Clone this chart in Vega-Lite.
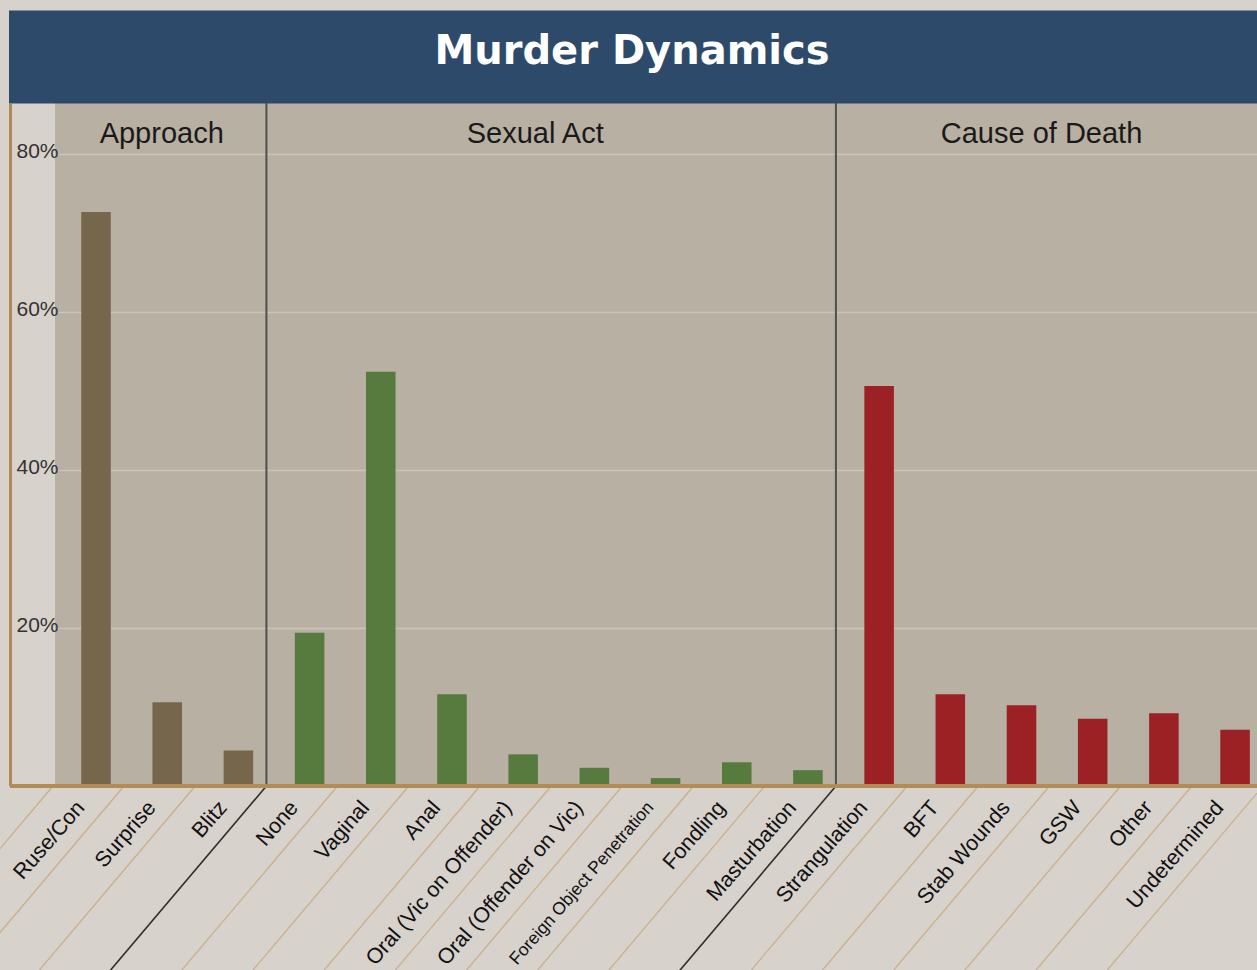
{
  "$schema": "https://vega.github.io/schema/vega-lite/v6.json",
  "autosize": {"type": "none"},
  "padding": {"left": 55, "top": 103, "right": 0, "bottom": 184},
  "width": 1202,
  "height": 683,
  "background": "#d7d2cb",
  "config": {"view": {"fill": "#b8b0a2", "stroke": null}},
  "title": {"text": "Murder Dynamics", "color": "#ffffff", "font": "DejaVu Sans", "fontSize": 40, "fontWeight": "bold", "anchor": "middle", "frame": "group", "dx": -24, "offset": -47, "baseline": "alphabetic"},
  "data": {"values": [
    {"cat": "Ruse/Con", "group": "Approach", "value": 72.6},
    {"cat": "Surprise", "group": "Approach", "value": 10.6},
    {"cat": "Blitz", "group": "Approach", "value": 4.5},
    {"cat": "None", "group": "Sexual Act", "value": 19.4},
    {"cat": "Vaginal", "group": "Sexual Act", "value": 52.4},
    {"cat": "Anal", "group": "Sexual Act", "value": 11.6},
    {"cat": "Oral (Vic on Offender)", "group": "Sexual Act", "value": 4.0},
    {"cat": "Oral (Offender on Vic)", "group": "Sexual Act", "value": 2.3},
    {"cat": "Foreign Object Penetration", "group": "Sexual Act", "value": 1.0},
    {"cat": "Fondling", "group": "Sexual Act", "value": 3.0},
    {"cat": "Masturbation", "group": "Sexual Act", "value": 2.0},
    {"cat": "Strangulation", "group": "Cause of Death", "value": 50.6},
    {"cat": "BFT", "group": "Cause of Death", "value": 11.6},
    {"cat": "Stab Wounds", "group": "Cause of Death", "value": 10.2},
    {"cat": "GSW", "group": "Cause of Death", "value": 8.5},
    {"cat": "Other", "group": "Cause of Death", "value": 9.2},
    {"cat": "Undetermined", "group": "Cause of Death", "value": 7.1}
  ]},
  "encoding": {
    "x": {"field": "cat", "type": "nominal", "axis": null,
      "scale": {"domain": ["Ruse/Con","Surprise","Blitz","None","Vaginal","Anal","Oral (Vic on Offender)","Oral (Offender on Vic)","Foreign Object Penetration","Fondling","Masturbation","Strangulation","BFT","Stab Wounds","GSW","Other","Undetermined"], "paddingInner": 0.585, "paddingOuter": 0.2346, "align": 0.786}}
  },
  "resolve": {"axis": {"x": "independent", "y": "independent"}},
  "layer": [
    {
      "transform": [{"filter": {"not": {"field": "cat", "oneOf": ["Blitz", "Masturbation"]}}}],
      "mark": {"type": "rule", "color": "#c9ae86", "strokeWidth": 1.2, "xOffset": 28, "x2Offset": -146},
      "encoding": {
        "x2": {"field": "cat"},
        "y": {"datum": 0, "type": "quantitative", "axis": null, "scale": {"domain": [0, 86.4], "nice": false}},
        "y2": {"datum": -26}
      }
    },
    {
      "transform": [{"filter": {"field": "cat", "equal": "Ruse/Con"}}],
      "mark": {"type": "rule", "color": "#c9ae86", "strokeWidth": 1.2, "xOffset": -43, "x2Offset": -217},
      "encoding": {
        "x2": {"field": "cat"},
        "y": {"datum": 0, "type": "quantitative", "axis": null, "scale": {"domain": [0, 86.4], "nice": false}},
        "y2": {"datum": -26}
      }
    },
    {
      "transform": [{"filter": {"field": "cat", "oneOf": ["Blitz", "Masturbation"]}}],
      "mark": {"type": "rule", "color": "#2e2e2e", "strokeWidth": 1.6, "xOffset": 28, "x2Offset": -146},
      "encoding": {
        "x2": {"field": "cat"},
        "y": {"datum": 0, "type": "quantitative", "axis": null, "scale": {"domain": [0, 86.4], "nice": false}},
        "y2": {"datum": -26}
      }
    },
    {
      "transform": [{"filter": {"field": "cat", "oneOf": ["Blitz", "Masturbation"]}}],
      "mark": {"type": "rule", "color": "#505050", "strokeWidth": 2, "xOffset": 28},
      "encoding": {
        "y": {"datum": 0, "type": "quantitative", "axis": null, "scale": {"domain": [0, 86.4], "nice": false}},
        "y2": {"datum": 86.4}
      }
    },
    {
      "mark": {"type": "bar"},
      "encoding": {
        "x": {"field": "cat", "type": "nominal",
          "scale": {"domain": ["Ruse/Con","Surprise","Blitz","None","Vaginal","Anal","Oral (Vic on Offender)","Oral (Offender on Vic)","Foreign Object Penetration","Fondling","Masturbation","Strangulation","BFT","Stab Wounds","GSW","Other","Undetermined"], "paddingInner": 0.585, "paddingOuter": 0.2346, "align": 0.786},
          "axis": {"orient": "bottom", "title": null, "domain": false, "ticks": false, "tickSize": 0, "grid": false,
            "labelAngle": -49, "labelAlign": "right", "labelBaseline": "middle", "labelPadding": 18, "labelOffset": -15,
            "labelFont": "Liberation Sans", "labelColor": "#111111", "labelLimit": 400, "labelOverlap": false,
            "labelFontSize": {"condition": {"test": "datum.label === 'Foreign Object Penetration'", "value": 17.5}, "value": 21.5}}},
        "y": {"field": "value", "type": "quantitative", "scale": {"domain": [0, 86.4], "nice": false},
          "axis": {"orient": "left", "title": null, "values": [20, 40, 60, 80], "labelExpr": "datum.value + '%'",
            "offset": 45, "domain": true, "domainColor": "#b08a55", "domainWidth": 3, "ticks": false, "tickSize": 0,
            "labelAlign": "left", "labelBaseline": "middle", "labelPadding": -6, "labelFont": "Liberation Sans",
            "labelFontSize": 21, "labelColor": "#333333", "labelOffset": -2, "grid": true, "gridColor": "#cbc3b5", "gridWidth": 1.5}},
        "color": {"field": "group", "type": "nominal", "legend": null,
          "scale": {"domain": ["Approach", "Sexual Act", "Cause of Death"], "range": ["#76664b", "#577a3f", "#9b2125"]}}
      }
    },
    {
      "mark": {"type": "rule", "color": "#b48b56", "strokeWidth": 3, "xOffset": -45},
      "encoding": {
        "x": {"value": 0},
        "x2": {"value": 1202},
        "y": {"datum": 0, "type": "quantitative", "axis": null, "scale": {"domain": [0, 86.4], "nice": false}}
      }
    },
    {
      "transform": [{"filter": {"field": "cat", "equal": "Surprise"}}],
      "mark": {"type": "text", "font": "Liberation Sans", "fontSize": 29, "color": "#1a1a1a", "align": "center", "baseline": "alphabetic", "xOffset": -5.5},
      "encoding": {
        "x": {"field": "cat", "type": "nominal",
          "scale": {"domain": ["Ruse/Con","Surprise","Blitz","None","Vaginal","Anal","Oral (Vic on Offender)","Oral (Offender on Vic)","Foreign Object Penetration","Fondling","Masturbation","Strangulation","BFT","Stab Wounds","GSW","Other","Undetermined"], "paddingInner": 0.585, "paddingOuter": 0.2346, "align": 0.786},
          "axis": {"orient": "top", "title": null, "labels": false, "ticks": false, "grid": false, "domain": true,
            "domainColor": "#2d4a6b", "domainWidth": 93, "domainCap": "square", "offset": 46.5}},
        "y": {"datum": 81.3, "type": "quantitative", "axis": null, "scale": {"domain": [0, 86.4], "nice": false}},
        "text": {"field": "group"}
      }
    },
    {
      "transform": [{"filter": {"field": "cat", "equal": "Oral (Vic on Offender)"}}],
      "mark": {"type": "text", "font": "Liberation Sans", "fontSize": 29, "color": "#1a1a1a", "align": "center", "baseline": "alphabetic", "xOffset": 12},
      "encoding": {
        "y": {"datum": 81.3, "type": "quantitative", "axis": null, "scale": {"domain": [0, 86.4], "nice": false}},
        "text": {"field": "group"}
      }
    },
    {
      "transform": [{"filter": {"field": "cat", "equal": "Stab Wounds"}}],
      "mark": {"type": "text", "font": "Liberation Sans", "fontSize": 29, "color": "#1a1a1a", "align": "center", "baseline": "alphabetic", "xOffset": 20},
      "encoding": {
        "y": {"datum": 81.3, "type": "quantitative", "axis": null, "scale": {"domain": [0, 86.4], "nice": false}},
        "text": {"field": "group"}
      }
    }
  ]
}
